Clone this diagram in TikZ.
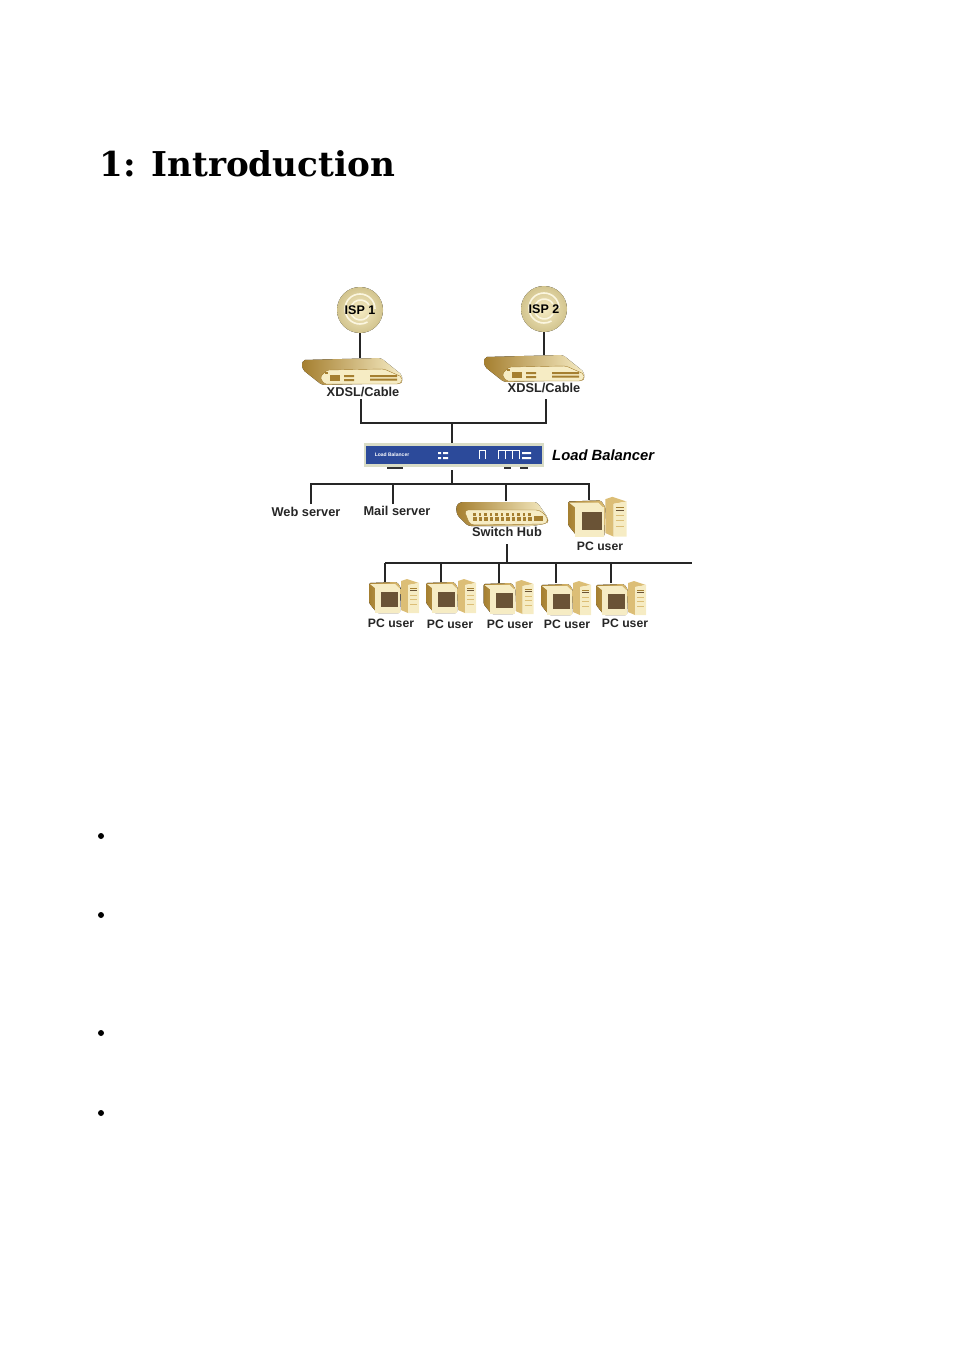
\documentclass[tikz,border=0pt]{standalone}
\usepackage{fontspec}
\setmainfont{Liberation Sans}
\newfontfamily\titlefont{DejaVu Serif}
\definecolor{tandark}{HTML}{A57F30}
\definecolor{tanmid}{HTML}{DCBE76}
\definecolor{tanlight}{HTML}{F6ECC4}
\definecolor{screenbrown}{HTML}{6A5336}
\definecolor{lbblue}{HTML}{2C4A9A}
\definecolor{lbrim}{HTML}{D9DCC6}
\definecolor{ballrim}{HTML}{D2C48E}
\definecolor{ballmark}{HTML}{FBF6E0}
\tikzset{
  x=1pt,y=-1pt,
  label/.style={font=\bfseries\fontsize{12.8}{14}\selectfont,text=black!85,inner sep=0pt},
  pclabel/.style={font=\bfseries\fontsize{12.2}{14}\selectfont,text=black!85,inner sep=0pt},
  wire/.style={draw=black!85,line width=1.1pt},
  ispnode/.style={circle,minimum size=46pt,inner sep=0pt,font=\bfseries\fontsize{12.5}{14}\selectfont},
  ispmark/.style={draw=ballmark,line width=1.6pt},
  bulletdot/.style={circle,fill=black,minimum size=6pt,inner sep=0pt},
  pics/ispball/.style={code={
    \fill[inner color=tanlight,outer color=ballrim] (0,0) circle (23);
    \draw[ispmark] (9,5) arc (30:330:10);
    \draw[ispmark] (15,-1) arc (0:-300:15);
  }},
  pics/pcuser/.style={code={
    % tower
    \fill[tanmid] (32,1) -- (38,-1) -- (50,3) -- (39,5) -- (39,33) -- (32,30) -- cycle;
    \fill[tanlight] (39,5) -- (50,3) -- (50,33) -- (39,33) -- cycle;
    \draw[tandark,line width=.8pt] (41,8) -- (48,8);
    \draw[screenbrown,line width=.8pt] (41,10.5) -- (48,10.5);
    \draw[tanmid,line width=.5pt] (41,15) -- (48,15) (41,19) -- (48,19) (41,24) -- (48,24);
    % monitor
    \fill[left color=tandark,right color=tanmid,rounded corners=1.5pt] (0,3) -- (28,2) -- (32,8) -- (31,33) -- (8,33) -- (0,23) -- cycle;
    \fill[tanlight] (1,4) -- (26,4) -- (30,8) -- (6,8) -- cycle;
    \fill[tanlight] (6,8) rectangle (31,33);
    \fill[screenbrown] (12,12) rectangle (29,27);
  }},
  pics/modembox/.style={code={
    \fill[left color=tandark,right color=tanlight,rounded corners=2pt] (1,0) -- (79,-2) -- (100,15) -- (100,23) -- (20,25) -- (1,10) -- (0,5) -- cycle;
    \fill[tanlight,draw=tandark,line width=.4pt,rounded corners=2pt] (18,17) -- (25,10) -- (82,9) -- (100,17) -- (100,22) -- (97,24) -- (22,24) -- cycle;
    \fill[tandark] (23,12) rectangle (26,14);
    \fill[tandark] (28,15) rectangle (38,21);
    \fill[tandark] (42,15) rectangle (52,17) (42,19) rectangle (52,21);
    \fill[tandark] (68,15) rectangle (95,17) (68,18.5) rectangle (95,20.5);
  }},
  pics/hubbox/.style={code={
    \fill[left color=tandark,right color=tanlight,rounded corners=3pt] (4,1) -- (81,1) -- (92,17) -- (92,22) -- (77,25) -- (12,25) -- (1,14) -- (0,5) -- cycle;
    \fill[tanlight,draw=tandark,line width=.4pt,rounded corners=4pt] (8,9) -- (84,9) -- (92,17) -- (91,23) -- (14,24) -- cycle;
    \foreach \px in {17,22.5,...,72} {
      \fill[tandark] (\px,12) rectangle +(2.5,2.5);
      \fill[tandark] (\px,16) rectangle +(3.5,4);
    }
    \fill[tandark] (78,15) rectangle (87,20);
  }},
}
\begin{document}
\begin{tikzpicture}
\useasboundingbox (0,0) rectangle (954,1351);

\node[anchor=west,inner sep=0pt,font=\titlefont\bfseries\fontsize{34.2}{38}\selectfont] (title) at (99,164) {1: Introduction};

% ISP and modems
\pic at (360,310) {ispball};
\pic at (544,309) {ispball};
\node[ispnode] (isp1) at (360,310) {ISP 1};
\node[ispnode] (isp2) at (544,309) {ISP 2};
\pic at (302,360) {modembox};
\pic at (484,357) {modembox};
\coordinate (modem1) at (360,358);
\coordinate (modem2) at (544,355);
\draw[wire] (isp1) -- (modem1);
\draw[wire] (isp2) -- (modem2);
\node[label] (xdsl1) at (363,392) {XDSL/Cable};
\node[label] (xdsl2) at (544,388) {XDSL/Cable};

\coordinate (up1) at (361,399);
\coordinate (up2) at (546,399);
\coordinate (upjoin) at (452,423);
\coordinate (lbtop) at (452,443);
\draw[wire] (up1) |- (upjoin);
\draw[wire] (up2) |- (upjoin);
\draw[wire] (upjoin) -- (lbtop);

% load balancer
\fill[black!80] (387,466) rectangle (403,469);
\fill[black!80] (504,466) rectangle (511,469);
\fill[black!80] (520,466) rectangle (528,469);
\fill[lbrim] (364,443) rectangle (544,467);
\fill[lbblue] (366,446) rectangle (542,464);
\node[font=\bfseries\fontsize{5}{6}\selectfont,text=white,inner sep=0pt] (lbtext) at (392,455) {Load Balancer};
\fill[white] (438,452) rectangle (441,454) (443,452) rectangle (448,454);
\fill[white] (438,457) rectangle (441,459) (443,457) rectangle (448,459);
\draw[white,line width=1pt] (479,459) -- (479,450) -- (485,450) -- (485,459);
\draw[white,line width=1pt] (498,459) -- (498,450) -- (519,450) -- (519,459) (505,459) -- (505,450) (512,459) -- (512,450);
\fill[white] (522,452) rectangle (531,454) (522,457) rectangle (531,459);
\node[anchor=west,inner sep=0pt,font=\bfseries\itshape\fontsize{14.8}{16}\selectfont] (lblabel) at (552,455) {Load Balancer};

% first level
\coordinate (lbbottom) at (452,470);
\coordinate (busa) at (452,484);
\coordinate (webdrop) at (311,504);
\coordinate (maildrop) at (393,504);
\coordinate (hubdrop) at (506,501);
\coordinate (pcdrop) at (589,500);
\draw[wire] (lbbottom) -- (busa);
\draw[wire] (webdrop) |- (busa);
\draw[wire] (pcdrop) |- (busa);
\draw[wire] (maildrop) -- (maildrop |- busa);
\draw[wire] (hubdrop) -- (hubdrop |- busa);
\node[label] (web) at (306,512) {Web server};
\node[label] (mail) at (397,511) {Mail server};
\pic at (456,501) {hubbox};
\node[label] (hub) at (507,532) {Switch Hub};
\pic[scale=1.17] at (568,498) {pcuser};
\node[pclabel] (pc0) at (600,546) {PC user};

% second level
\coordinate (hubout) at (507,544);
\coordinate (busb) at (507,563);
\coordinate (busbleft) at (385,563);
\coordinate (busbright) at (692,563);
\draw[wire] (hubout) -- (busb);
\draw[wire] (busbleft) -- (busbright);
\coordinate (drop1) at (385,582);
\coordinate (drop2) at (441,582);
\coordinate (drop3) at (499,583);
\coordinate (drop4) at (556,583);
\coordinate (drop5) at (611,583);
\draw[wire] (busbleft) -- (drop1);
\draw[wire] (drop2) -- (drop2 |- busb);
\draw[wire] (drop3) -- (drop3 |- busb);
\draw[wire] (drop4) -- (drop4 |- busb);
\draw[wire] (drop5) -- (drop5 |- busb);
\pic at (369,580) {pcuser};
\pic at (426,580) {pcuser};
\pic at (483.5,581) {pcuser};
\pic at (541,582) {pcuser};
\pic at (596,582) {pcuser};
\node[pclabel] (pc1) at (391,623) {PC user};
\node[pclabel] (pc2) at (450,624) {PC user};
\node[pclabel] (pc3) at (510,624) {PC user};
\node[pclabel] (pc4) at (567,624) {PC user};
\node[pclabel] (pc5) at (625,623) {PC user};

% bullets
\node[bulletdot] (b1) at (101,836) {};
\node[bulletdot] (b2) at (101,915) {};
\node[bulletdot] (b3) at (101,1033) {};
\node[bulletdot] (b4) at (101,1113) {};
\end{tikzpicture}
\end{document}
